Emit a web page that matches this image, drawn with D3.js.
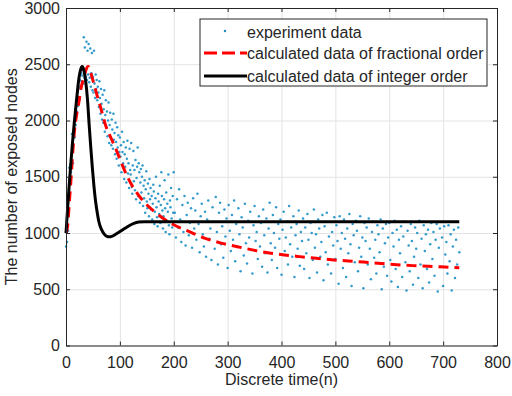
<!DOCTYPE html>
<html>
<head>
<meta charset="utf-8">
<script src="https://cdn.jsdelivr.net/npm/d3@7"></script>
<style>
  html, body { margin: 0; padding: 0; background: #fff; }
  svg { display: block; font-family: "Liberation Sans", Arial, Helvetica, sans-serif; }
</style>
</head>
<body>
<div id="chart"></div>
<script>
// ticks
const xTicks = [0, 100, 200, 300, 400, 500, 600, 700, 800];
const yTicks = [0, 500, 1000, 1500, 2000, 2500, 3000];

// experiment data, n = 0 .. 199 (every step)
const experimentEarly = [
  880, 1000, 920, 1150, 1020, 1320, 1580, 1450, 1610, 1540, 1700, 1880, 1760, 1620, 1890, 1980, 1850, 2100, 1960, 2180,
  2080, 2250, 2130, 2210, 2300, 2190, 2360, 2280, 2420, 2350, 2400, 2450, 2330, 2740, 2380, 2650, 2440, 2390, 2700, 2360,
  2620, 2410, 2680, 2340, 2380, 2640, 2300, 2420, 2600, 2270, 2390, 2250, 2620, 2330, 2200, 2410, 2280, 2360, 2180, 2300,
  2250, 2120, 2350, 2200, 2060, 2280, 2150, 2010, 2230, 1980, 2100, 2270, 1900, 2050, 2180, 1940, 2080, 1860, 2000, 2160,
  1800, 1960, 2070, 1850, 1780, 2010, 1920, 1750, 2060, 1830, 1890, 1700, 1980, 1810, 1660, 1940, 1760, 1870, 1600, 1720,
  1850, 1680, 1780, 1540, 1900, 1720, 1620, 1810, 1480, 1700, 1590, 1760, 1450, 1660, 1820, 1530, 1620, 1400, 1750, 1560,
  1520, 1800, 1410, 1350, 1600, 1730, 1460, 1560, 1380, 1650, 1300, 1490, 1590, 1760, 1330, 1620, 1540, 1270, 1450, 1570,
  1360, 1500, 1600, 1240, 1420, 1310, 1470, 1180, 1390, 1550, 1280, 1220, 1440, 1350, 1150, 1480, 1300, 1400, 1210, 1330,
  1120, 1260, 1430, 1370, 1080, 1190, 1310, 1500, 1230, 1140, 1060, 1350, 1280, 1170, 1420, 1090, 1250, 1540, 1330, 1200,
  1040, 1150, 1300, 1470, 1220, 1010, 1360, 1110, 1260, 1190, 1520, 1070, 990, 1290, 1230, 1400, 1130, 1050, 1330, 1180
];

// experiment data, n = 200, 202, ..., 730
const experimentLate = [
  1540, 1180, 960, 1300, 1050, 1390, 1120, 920, 1250, 1010,
  1330, 890, 1160, 1270, 980, 1090, 1220, 870, 1310, 1040,
  1200, 940, 1350, 1080, 830, 1150, 1260, 990, 880, 1190,
  790, 1120, 1290, 950, 1040, 760, 1230, 1100, 860, 1320,
  1010, 720, 1180, 1270, 900, 1060, 780, 1210, 970, 1130,
  690, 1250, 1020, 840, 1160, 940, 1290, 750, 1080, 880,
  1220, 990, 660, 1140, 1050, 800, 1260, 910, 730, 1110,
  960, 1190, 850, 640, 1070, 1240, 930, 1010, 770, 1150,
  880, 1090, 700, 1210, 980, 820, 1130, 650, 1040, 1270,
  910, 760, 1160, 1000, 870, 1230, 690, 1080, 950, 1120,
  630, 1030, 1190, 840, 960, 1100, 720, 1240, 900, 1050,
  790, 1150, 610, 980, 1080, 860, 1200, 710, 1010, 930,
  1130, 680, 1050, 820, 1170, 940, 600, 1090, 1000, 760,
  1210, 870, 990, 650, 1120, 1040, 790, 920, 1160, 580,
  1060, 830, 1180, 720, 970, 1100, 640, 1010, 890, 1140,
  770, 1070, 930, 550, 1150, 860, 1000, 690, 1120, 950,
  610, 1040, 820, 1170, 900, 530, 1080, 980, 740, 1110,
  1020, 660, 870, 1150, 790, 960, 510, 1090, 930, 1050,
  720, 1130, 860, 590, 1010, 1100, 780, 940, 640, 1070,
  990, 830, 1120, 500, 1040, 700, 910, 1080, 620, 960,
  1090, 760, 570, 1000, 880, 1110, 680, 1030, 520, 940,
  820, 1060, 610, 970, 1100, 740, 490, 1020, 890, 660,
  1080, 930, 540, 790, 1050, 860, 1000, 600, 1110, 720,
  950, 510, 1070, 840, 990, 680, 1030, 560, 900, 1090,
  770, 1010, 620, 940, 1080, 480, 870, 1040, 700, 960,
  530, 1060, 810, 920, 640, 1070, 750, 990, 490, 880,
  1030, 600, 940, 720, 1050, 830
];

// calculated data of fractional order
const fractionalN = [0, 3, 6, 9, 12, 15, 20, 24, 28, 33, 37, 41, 48, 56, 64, 74, 84, 94, 104, 114, 124, 134, 146, 168, 199, 230, 257, 288, 318, 346, 377, 405, 434, 465, 493, 524, 552, 579, 614, 644, 672, 703, 730];
const fractionalValues = [1000, 1060, 1260, 1456, 1680, 1871, 2060, 2167, 2290, 2378, 2450, 2480, 2390, 2250, 2120, 1950, 1840, 1730, 1610, 1500, 1410, 1340, 1270, 1175, 1075, 1010, 955, 910, 878, 850, 822, 805, 790, 775, 762, 752, 742, 732, 718, 710, 705, 698, 692];

// calculated data of integer order
const integerN = [0, 3, 6, 9, 12, 15, 18, 21, 24, 27, 30, 33, 36, 40, 43, 46, 49, 52, 55, 58, 61, 66, 71, 76, 80, 85, 90, 95, 104, 114, 126, 135, 145, 730];
const integerValues = [1000, 1220, 1430, 1620, 1800, 1960, 2108, 2250, 2375, 2450, 2480, 2450, 2370, 2180, 1960, 1760, 1575, 1410, 1278, 1180, 1100, 1030, 990, 970, 966, 970, 982, 997, 1025, 1056, 1086, 1097, 1100, 1100];

const legendLabels = ["experiment data", "calculated data of fractional order", "calculated data of integer order"];

const experimentPoints = experimentEarly.map((v, i) => [i, v])
  .concat(experimentLate.map((v, i) => [200 + 2 * i, v]));

const width = 512, height = 396;
const margin = { top: 8, right: 15, bottom: 50.5, left: 66 };
const plotW = width - margin.left - margin.right;
const plotH = height - margin.top - margin.bottom;
const textColor = "#262626";
const dotColor = "#1d8fc7";
const fontSize = "16px";

const x = d3.scaleLinear().domain([0, 800]).range([0, plotW]);
const y = d3.scaleLinear().domain([0, 3000]).range([plotH, 0]);

const svg = d3.select("#chart").append("svg")
  .attr("width", width)
  .attr("height", height);

const g = svg.append("g").attr("transform", `translate(${margin.left},${margin.top})`);

// grid
g.append("g")
  .attr("class", "grid")
  .attr("transform", `translate(0,${plotH})`)
  .call(d3.axisBottom(x).tickValues(xTicks).tickSize(-plotH).tickFormat(""))
  .call((s) => s.select(".domain").remove())
  .selectAll("line").attr("stroke", "#e3e3e3");
g.append("g")
  .attr("class", "grid")
  .call(d3.axisLeft(y).tickValues(yTicks).tickSize(-plotW).tickFormat(""))
  .call((s) => s.select(".domain").remove())
  .selectAll("line").attr("stroke", "#e3e3e3");

// experiment scatter
g.append("g")
  .attr("class", "dots")
  .selectAll("circle")
  .data(experimentPoints)
  .join("circle")
  .attr("cx", (d) => x(d[0]))
  .attr("cy", (d) => y(d[1]))
  .attr("r", 1.25)
  .attr("fill", dotColor)
  .attr("opacity", 0.9);

const line = d3.line().curve(d3.curveMonotoneX);

// fractional order (red dashed)
g.append("path")
  .attr("d", line(fractionalN.map((n, i) => [x(n), y(fractionalValues[i])])))
  .attr("fill", "none")
  .attr("stroke", "#ff0000")
  .attr("stroke-width", 3)
  .attr("stroke-dasharray", "10,6");

// integer order (black)
g.append("path")
  .attr("d", line(integerN.map((n, i) => [x(n), y(integerValues[i])])))
  .attr("fill", "none")
  .attr("stroke", "#000")
  .attr("stroke-width", 3);

// axes, ticks inward on all four sides
const styleAxis = (s) => {
  s.select(".domain").attr("stroke", textColor);
  s.selectAll(".tick line").attr("stroke", textColor);
  s.selectAll("text").attr("fill", textColor).style("font-size", fontSize);
};

g.append("g")
  .attr("transform", `translate(0,${plotH})`)
  .call(d3.axisBottom(x).tickValues(xTicks).tickFormat(d3.format("d")).tickSizeInner(-4).tickSizeOuter(0).tickPadding(11))
  .call(styleAxis);
g.append("g")
  .call(d3.axisLeft(y).tickValues(yTicks).tickFormat(d3.format("d")).tickSizeInner(-4).tickSizeOuter(0).tickPadding(6))
  .call(styleAxis);
g.append("g")
  .call(d3.axisTop(x).tickValues(xTicks).tickSizeInner(-4).tickSizeOuter(0).tickFormat(""))
  .call(styleAxis);
g.append("g")
  .attr("transform", `translate(${plotW},0)`)
  .call(d3.axisRight(y).tickValues(yTicks).tickSizeInner(-4).tickSizeOuter(0).tickFormat(""))
  .call(styleAxis);

// axis titles
svg.append("text")
  .attr("x", margin.left + plotW / 2)
  .attr("y", 385)
  .attr("text-anchor", "middle")
  .attr("fill", textColor)
  .style("font-size", fontSize)
  .text("Discrete time(n)");

svg.append("text")
  .attr("transform", `translate(17,${margin.top + plotH / 2}) rotate(-90)`)
  .attr("text-anchor", "middle")
  .attr("fill", textColor)
  .style("font-size", fontSize)
  .text("The number of exposed nodes");

// legend
const legend = svg.append("g").attr("transform", "translate(200,19)");
legend.append("rect")
  .attr("width", 287)
  .attr("height", 67)
  .attr("fill", "#fff")
  .attr("stroke", textColor)
  .attr("stroke-width", 1);

const rowY = [13, 34, 57];
legend.append("circle")
  .attr("cx", 25).attr("cy", rowY[0] - 1).attr("r", 1.25).attr("fill", dotColor);
legend.append("line")
  .attr("x1", 4).attr("x2", 47).attr("y1", rowY[1]).attr("y2", rowY[1])
  .attr("stroke", "#ff0000").attr("stroke-width", 3).attr("stroke-dasharray", "13,5");
legend.append("line")
  .attr("x1", 4).attr("x2", 47).attr("y1", rowY[2]).attr("y2", rowY[2])
  .attr("stroke", "#000").attr("stroke-width", 3);

legend.selectAll("text.label")
  .data(legendLabels)
  .join("text")
  .attr("class", "label")
  .attr("x", 47)
  .attr("y", (d, i) => rowY[i])
  .attr("dy", "0.35em")
  .attr("fill", textColor)
  .style("font-size", fontSize)
  .text((d) => d);
</script>
</body>
</html>
